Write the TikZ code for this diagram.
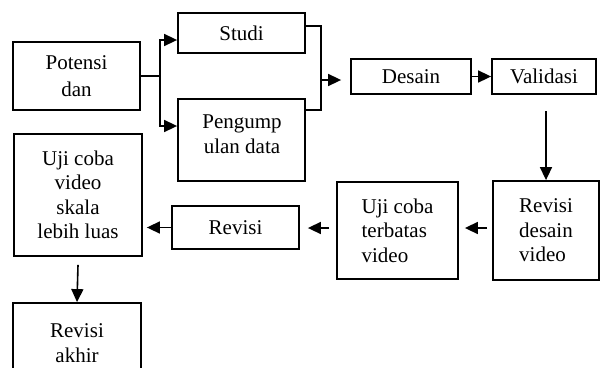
\documentclass[tikz,border=0pt]{standalone}
\usepackage{fontspec}
\setmainfont{Liberation Serif}
\usetikzlibrary{arrows.meta}
\begin{document}
\begin{tikzpicture}[x=1pt,y=-1pt,
  box/.style={draw, line width=1.8pt, inner sep=0pt, align=center,
              font=\fontsize{21}{24.5}\selectfont},
  txt/.style={inner sep=0pt, align=center, font=\fontsize{21}{24.5}\selectfont},
  arr/.style={line width=1.6pt, -{Triangle[length=13pt,width=12pt]}},
  ln/.style={line width=1.6pt}]
\useasboundingbox (0,0) rectangle (601,367);
\clip (0,0) rectangle (601,367);

\node[box, minimum width=127pt, minimum height=68pt, font=\fontsize{21}{27}\selectfont] (pot) at (76.5,76) {Potensi\\dan};
\node[box, minimum width=127pt, minimum height=40pt] (studi) at (241.5,33) {Studi};
\node[box, minimum width=127pt, minimum height=82pt] (peng) at (241.5,140) {};
\node[txt] (pengt) at (242,134) {Pengump\\ulan data};
\node[box, minimum width=120pt, minimum height=35pt] (desain) at (411,76.5) {Desain};
\node[box, minimum width=104pt, minimum height=35pt] (valid) at (544,76.5) {Validasi};
\node[box, minimum width=106pt, minimum height=99pt, align=left] (rdv) at (546,230.5) {Revisi\\desain\\video};
\node[box, minimum width=121pt, minimum height=97pt, align=left] (ujt) at (397.5,230.5) {Uji coba\\terbatas\\video};
\node[box, minimum width=127pt, minimum height=43pt] (rev) at (235.5,227.5) {Revisi};
\node[box, minimum width=128pt, minimum height=122pt] (ujv) at (78,195) {Uji coba\\video\\skala\\lebih luas};
\node[box, minimum width=128pt, minimum height=80pt] (rakhir) at (77,343) {Revisi\\akhir};

\coordinate (jl) at (160,76);
\coordinate (jr) at (321,80);
\coordinate (vd) at (546,111);

\draw[ln] (pot.east) -- (jl);
\draw[arr] (jl) |- ([yshift=-7pt]studi.west);
\draw[arr] (jl) |- ([yshift=14pt]peng.west);
\draw[ln] ([yshift=7pt]studi.east) -| (jr) |- ([yshift=30pt]peng.east);
\draw[arr] (jr) -- ([xshift=-9pt,yshift=-3.5pt]desain.west);
\draw[arr] (desain.east) -- (valid.west);
\draw[arr] (vd) -- (rdv.north);
\draw[arr] ([xshift=-5pt,yshift=2.5pt]rdv.west) -- ([xshift=6pt,yshift=2.5pt]ujt.east);
\draw[arr] ([xshift=-7pt,yshift=2.5pt]ujt.west) -- ([xshift=8pt,yshift=-0.5pt]rev.east);
\draw[arr] (rev.west) -- ([xshift=4pt,yshift=-32.5pt]ujv.east);
\draw[arr] ([yshift=-8pt]ujv.south) -- (rakhir.north);
\end{tikzpicture}
\end{document}
